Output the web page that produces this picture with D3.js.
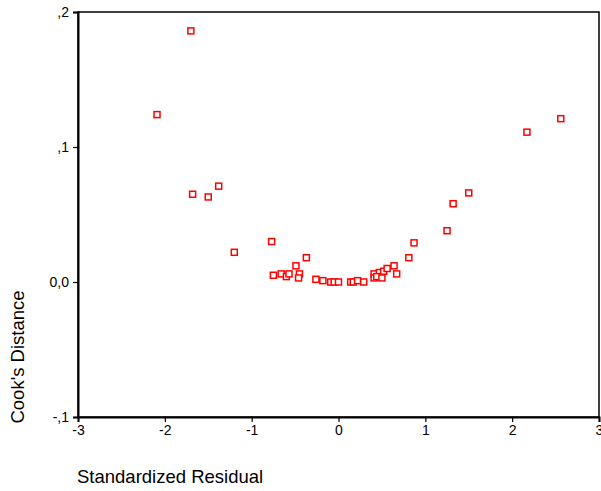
<!DOCTYPE html>
<html>
<head>
<meta charset="utf-8">
<script src="https://cdn.jsdelivr.net/npm/d3@7"></script>
<style>
  body { margin: 0; background: #fff; }
  text { font-family: "Liberation Sans", Arial, sans-serif; fill: #000; }
</style>
</head>
<body>
<div id="chart"></div>
<script>
// standardized residual vs Cook's distance
var residuals = [-2.09, -1.70, -1.68, -1.50, -1.38, -1.20, -0.77, -0.75, -0.66, -0.60,
                 -0.57, -0.49, -0.45, -0.46, -0.37, -0.26, -0.18, -0.09, -0.05, 0.00,
                 0.14, 0.17, 0.22, 0.29, 0.41, 0.41, 0.47, 0.44, 0.50, 0.52,
                 0.56, 0.64, 0.67, 0.81, 0.87, 1.25, 1.32, 1.50, 2.17, 2.56];
var cooks     = [0.124, 0.186, 0.065, 0.063, 0.071, 0.022, 0.030, 0.005, 0.006, 0.004,
                 0.006, 0.012, 0.006, 0.003, 0.018, 0.002, 0.001, 0.000, 0.000, 0.000,
                 0.000, 0.000, 0.001, 0.000, 0.006, 0.003, 0.007, 0.004, 0.003, 0.008,
                 0.010, 0.012, 0.006, 0.018, 0.029, 0.038, 0.058, 0.066, 0.111, 0.121];
var xTicks = [-3, -2, -1, 0, 1, 2, 3];
var yTicks = [0.2, 0.1, 0, -0.1];
var yTickLabels = [',2', ',1', '0,0', '-,1'];

var width = 601, height = 491;
var plotL = 78, plotR = 599, plotT = 12, plotB = 417;

var svg = d3.select('#chart')
  .append('svg')
  .attr('width', width)
  .attr('height', height);

var x = d3.scaleLinear().domain([-3, 3]).range([plotL, plotR]);
var y = d3.scaleLinear().domain([-0.1, 0.2]).range([plotB, plotT]);

// frame
svg.append('rect')
  .attr('x', plotL)
  .attr('y', plotT)
  .attr('width', plotR - plotL)
  .attr('height', plotB - plotT)
  .attr('fill', 'none')
  .attr('stroke', '#000')
  .attr('stroke-width', 1.5);

var xAxis = svg.append('g')
  .attr('transform', 'translate(0,' + plotB + ')')
  .call(d3.axisBottom(x).tickValues(xTicks).tickSize(5).tickPadding(3)
    .tickFormat(function(d) { return d; }));

var yAxis = svg.append('g')
  .attr('transform', 'translate(' + plotL + ',0)')
  .call(d3.axisLeft(y).tickValues(yTicks).tickSize(5).tickPadding(4)
    .tickFormat(function(d, i) { return yTickLabels[i]; }));

[xAxis, yAxis].forEach(function(g) {
  g.select('.domain').attr('stroke-width', 2);
  g.selectAll('.tick line').attr('stroke-width', 1.2);
  g.selectAll('.tick text')
    .style('font-family', '"Liberation Sans", Arial, sans-serif')
    .style('font-size', '14px');
});

// points
svg.append('g')
  .selectAll('rect')
  .data(residuals)
  .enter()
  .append('rect')
  .attr('x', function(d) { return x(d) - 3; })
  .attr('y', function(d, i) { return y(cooks[i]) - 3; })
  .attr('width', 6)
  .attr('height', 6)
  .attr('fill', '#fff')
  .attr('stroke', '#f00')
  .attr('stroke-width', 1.5);

// titles
svg.append('text')
  .attr('x', 77)
  .attr('y', 483)
  .style('font-size', '18.5px')
  .text('Standardized Residual');

svg.append('text')
  .attr('transform', 'translate(24,357) rotate(-90)')
  .attr('text-anchor', 'middle')
  .style('font-size', '18.5px')
  .text("Cook's Distance");
</script>
</body>
</html>
